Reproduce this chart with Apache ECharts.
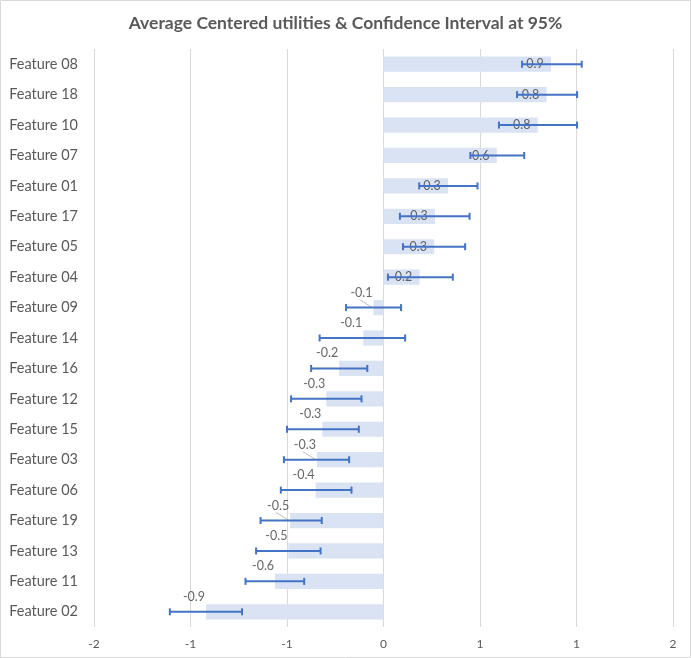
<!DOCTYPE html>
<html>
<head>
<meta charset="utf-8">
<script src="https://cdn.jsdelivr.net/npm/echarts@6/dist/echarts.min.js"></script>
<style>
html,body{margin:0;padding:0;background:#fff;}
#c{width:691px;height:658px;}
</style>
</head>
<body>
<div id="c"></div>
<script>
var categories = ['Feature 08','Feature 18','Feature 10','Feature 07','Feature 01','Feature 17','Feature 05','Feature 04','Feature 09','Feature 14','Feature 16','Feature 12','Feature 15','Feature 03','Feature 06','Feature 19','Feature 13','Feature 11','Feature 02'];
var means  = [0.868, 0.845, 0.799, 0.587, 0.334, 0.267, 0.263, 0.187, -0.052, -0.105, -0.230, -0.297, -0.317, -0.345, -0.352, -0.484, -0.493, -0.562, -0.920];
var ciLow  = [0.718, 0.692, 0.598, 0.450, 0.185, 0.085, 0.101, 0.023, -0.194, -0.331, -0.375, -0.479, -0.500, -0.516, -0.532, -0.637, -0.660, -0.715, -1.107];
var ciHigh = [1.027, 1.003, 1.003, 0.729, 0.487, 0.446, 0.423, 0.359, 0.091, 0.112, -0.084, -0.114, -0.128, -0.178, -0.166, -0.320, -0.326, -0.411, -0.733];
var leaderCats = ['Feature 09', 'Feature 03', 'Feature 19'];
var xTicks = {min: -1.5, max: 1.5, interval: 0.5};

var FONT = 'Lato, "Liberation Sans", sans-serif';
var chart = echarts.init(document.getElementById('c'), null, {renderer: 'canvas'});

var errData = categories.map(function (c, i) { return [ciLow[i], ciHigh[i], i]; });
var labelData = categories.map(function (c, i) {
  var neg = means[i] < 0;
  return {
    value: [means[i], i],
    label: {offset: neg ? [-12, -15] : [-16, 0]}
  };
});
var leaderData = categories.map(function (c, i) {
  return [means[i], i, leaderCats.indexOf(c) >= 0 ? 1 : 0];
});

function excelRound(v) {
  var r = Math.sign(v) * Math.round(Math.abs(v));
  return (r === 0 ? 0 : r).toString();
}

chart.setOption({
  animation: false,
  backgroundColor: '#fff',
  title: {
    text: 'Average Centered utilities & Confidence Interval at 95%',
    left: 'center',
    top: 9,
    textStyle: {fontFamily: FONT, fontSize: 17.5, fontWeight: 'bold', color: '#595959'}
  },
  graphic: [{
    type: 'rect',
    shape: {x: 0.5, y: 0.5, width: 690, height: 657},
    style: {fill: 'none', stroke: '#D9D9D9', lineWidth: 1},
    silent: true, z: -1
  }],
  grid: {left: 94, right: 18, top: 49, bottom: 31, containLabel: false},
  xAxis: {
    type: 'value',
    min: xTicks.min, max: xTicks.max, interval: xTicks.interval,
    axisLine: {show: false},
    axisTick: {show: false},
    splitLine: {show: true, lineStyle: {color: '#D9D9D9', width: 1}},
    axisLabel: {
      formatter: excelRound,
      color: '#595959', fontFamily: FONT, fontSize: 12, margin: 11
    }
  },
  yAxis: {
    type: 'category',
    data: categories,
    inverse: true,
    axisLine: {show: false},
    axisTick: {show: false},
    splitLine: {show: false},
    axisLabel: {color: '#595959', fontFamily: FONT, fontSize: 14.5, margin: 16}
  },
  series: [
    {
      type: 'bar',
      data: means,
      barWidth: '50%',
      itemStyle: {color: '#DAE3F3'},
      z: 2
    },
    {
      type: 'custom',
      data: leaderData,
      encode: {x: 0, y: 1},
      renderItem: function (params, api) {
        if (!api.value(2)) return null;
        var p = api.coord([api.value(0), api.value(1)]);
        return {
          type: 'line',
          shape: {x1: p[0] - 1, y1: p[1], x2: p[0] - 14, y2: p[1] - 8},
          style: {stroke: '#BFBFBF', lineWidth: 1}
        };
      },
      z: 3
    },
    {
      type: 'scatter',
      data: labelData,
      symbol: 'rect',
      symbolSize: 1,
      itemStyle: {color: 'rgba(0,0,0,0)'},
      label: {
        show: true,
        position: 'inside',
        formatter: function (p) { return (Math.round(p.value[0] * 10) / 10).toFixed(1); },
        color: '#404040', fontFamily: FONT, fontSize: 12.5,
        textBorderWidth: 0, textBorderColor: 'transparent'
      },
      z: 3
    },
    {
      type: 'custom',
      data: errData,
      encode: {x: [0, 1], y: 2},
      renderItem: function (params, api) {
        var lo = api.coord([api.value(0), api.value(2)]);
        var hi = api.coord([api.value(1), api.value(2)]);
        var cap = 3.5;
        var st = {stroke: '#4472C4', lineWidth: 2, fill: 'none'};
        return {
          type: 'group',
          children: [
            {type: 'line', shape: {x1: lo[0], y1: lo[1], x2: hi[0], y2: hi[1]}, style: st},
            {type: 'line', shape: {x1: lo[0], y1: lo[1] - cap, x2: lo[0], y2: lo[1] + cap}, style: st},
            {type: 'line', shape: {x1: hi[0], y1: hi[1] - cap, x2: hi[0], y2: hi[1] + cap}, style: st}
          ]
        };
      },
      z: 4
    }
  ]
});
</script>
</body>
</html>
